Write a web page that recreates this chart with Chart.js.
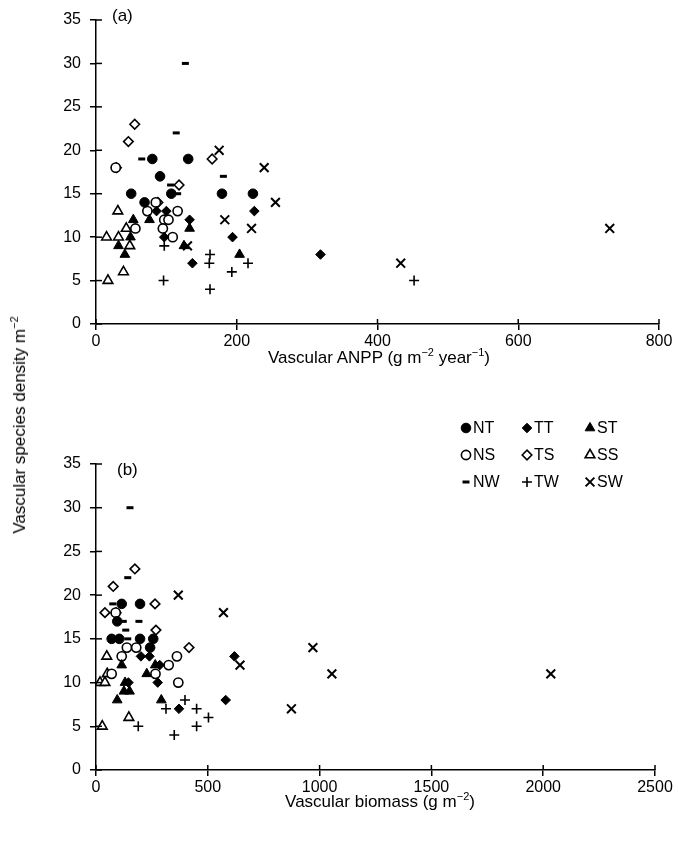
<!DOCTYPE html>
<html>
<head>
<meta charset="utf-8">
<title>Vascular species density</title>
<script src="https://cdn.jsdelivr.net/npm/chart.js@4.4.1/dist/chart.umd.min.js"></script>
<style>
  body { margin: 0; background: #fff; font-family: 'Liberation Sans', Arial, sans-serif; }
  #wrap { position: relative; width: 678px; height: 846px; overflow: hidden; }
  canvas { position: absolute; left: 0; }
  #chart-a { top: 0; }
  #chart-b { top: 400px; }
  .lbl { position: absolute; color: #000; font-size: 17px; line-height: 18px; white-space: nowrap; }
  .lbl sup { font-size: 11px; line-height: 0; }
  .ytitle { left: 20px; top: 425px; transform: translate(-50%, -50%) rotate(-90deg); }
  .xtitle { transform: translateX(-50%); }
</style>
</head>
<body>
<div id="wrap">
  <canvas id="chart-a" width="678" height="400"></canvas>
  <canvas id="chart-b" width="678" height="446"></canvas>
  <div class="lbl" style="left:112px; top:7px;">(a)</div>
  <div class="lbl" style="left:117px; top:461px;">(b)</div>
  <div class="lbl xtitle" style="left:379px; top:349px;">Vascular ANPP (g m<sup>−2</sup> year<sup>−1</sup>)</div>
  <div class="lbl xtitle" style="left:380px; top:793px;">Vascular biomass (g m<sup>−2</sup>)</div>
  <div class="lbl ytitle">Vascular species density m<sup>−2</sup></div>
</div>
<script>
'use strict';

//**********Global Variables*******************
// [x, species density] pairs

// (a) vascular ANPP
let ntAnpp = [[80, 19], [131, 19], [91, 17], [50, 15], [107, 15], [179, 15], [223, 15], [69, 14]];
let ttAnpp = [[86, 13], [100, 13], [133, 12], [225, 13], [194, 10], [97, 10], [137, 7], [319, 8]];
let stAnpp = [[53, 12], [76, 12], [133, 11], [49, 10], [32, 9], [41, 8], [125, 9], [204, 8]];
let nsAnpp = [[28, 18], [85, 14], [73, 13], [116, 13], [97, 12], [103, 12], [56, 11], [95, 11], [109, 10]];
let tsAnpp = [[55, 23], [46, 21], [165, 19], [29, 18], [118, 16], [88, 14]];
let ssAnpp = [[31, 13], [43, 11], [15, 10], [32, 10], [48, 9], [39, 6], [17, 5]];
let nwAnpp = [[127, 30], [114, 22], [65, 19], [181, 17], [106, 16], [116, 15]];
let twAnpp = [[97, 9], [96, 5], [162, 8], [161, 7], [162, 4], [193, 6], [216, 7], [452, 5]];
let swAnpp = [[175, 20], [239, 18], [255, 14], [183, 12], [221, 11], [130, 9], [433, 7], [730, 11]];

// (b) vascular biomass
let ntBio = [[115, 19], [197, 19], [95, 17], [70, 15], [104, 15], [197, 15], [256, 15], [242, 14]];
let ttBio = [[201, 13], [239, 13], [619, 13], [285, 12], [276, 10], [145, 10], [371, 7], [580, 8]];
let stBio = [[115, 12], [265, 12], [227, 11], [130, 10], [125, 9], [150, 9], [95, 8], [292, 8]];
let nsBio = [[88, 18], [138, 14], [180, 14], [115, 13], [362, 13], [325, 12], [266, 11], [70, 11], [368, 10]];
let tsBio = [[174, 23], [77, 21], [264, 19], [40, 18], [90, 18], [268, 16], [416, 14]];
let ssBio = [[48, 13], [50, 11], [18, 10], [40, 10], [147, 6], [28, 5]];
let nwBio = [[152, 30], [142, 22], [75, 19], [122, 17], [192, 17], [133, 16], [142, 15]];
let twBio = [[398, 8], [313, 7], [450, 7], [503, 6], [189, 5], [450, 5], [350, 4]];
let swBio = [[368, 20], [570, 18], [970, 14], [644, 12], [1055, 11], [2034, 11], [874, 7]];

let groupNames = ['NT', 'TT', 'ST', 'NS', 'TS', 'SS', 'NW', 'TW', 'SW'];
let yTicks = [0, 5, 10, 15, 20, 25, 30, 35];
let anppTicks = [0, 200, 400, 600, 800];
let bioTicks = [0, 500, 1000, 1500, 2000, 2500];

// ************ Marker styles *******************

let markers = {
  NT: { style: 'circle', fill: '#000', r: 4.8, bw: 1 },
  TT: { style: 'rectRot', fill: '#000', r: 4.8, bw: 1 },
  ST: { style: 'triangle', fill: '#000', r: 5.6, bw: 1 },
  NS: { style: 'circle', fill: '#fff', r: 4.6, bw: 1.6 },
  TS: { style: 'rectRot', fill: '#fff', r: 4.8, bw: 1.6 },
  SS: { style: 'triangle', fill: '#fff', r: 5.6, bw: 1.6 },
  NW: { style: 'line', fill: '#000', r: 3.5, bw: 3 },
  TW: { style: 'cross', fill: '#000', r: 5, bw: 1.6 },
  SW: { style: 'crossRot', fill: '#000', r: 6.2, bw: 2 }
};

// ************ Helper Functions ****************

function makeDataset(name, pairs) {
  let m = markers[name];
  return {
    label: name,
    data: pairs.map(p => ({ x: p[0], y: p[1] })),
    pointStyle: m.style,
    pointRadius: m.r,
    pointHoverRadius: m.r,
    pointBackgroundColor: m.fill,
    pointBorderColor: '#000',
    pointBorderWidth: m.bw,
    showLine: false
  };
}

// ticks that cross the axis line (inner half)
let innerTicks = {
  id: 'innerTicks',
  afterDraw(chart) {
    let ctx = chart.ctx;
    let area = chart.chartArea;
    let xs = chart.scales.x;
    let ys = chart.scales.y;
    ctx.save();
    ctx.strokeStyle = '#000';
    ctx.lineWidth = 1.5;
    xs.ticks.forEach(t => {
      let px = xs.getPixelForValue(t.value);
      ctx.beginPath();
      ctx.moveTo(px, area.bottom);
      ctx.lineTo(px, area.bottom - 5);
      ctx.stroke();
    });
    ys.ticks.forEach(t => {
      let py = ys.getPixelForValue(t.value);
      ctx.beginPath();
      ctx.moveTo(area.left, py);
      ctx.lineTo(area.left + 6, py);
      ctx.stroke();
    });
    ctx.restore();
  }
};

// 3 x 3 legend block in panel (b)
let legendCols = [466, 527, 590];
let legendRows = [28, 55, 82];

let legendGrid = {
  id: 'legendGrid',
  afterDraw(chart) {
    if (!chart.options.plugins.legendGrid || !chart.options.plugins.legendGrid.show) return;
    let ctx = chart.ctx;
    chart.data.datasets.forEach((ds, i) => {
      let x = legendCols[i % 3];
      let y = legendRows[Math.floor(i / 3)];
      ctx.save();
      ctx.fillStyle = ds.pointBackgroundColor;
      ctx.strokeStyle = ds.pointBorderColor;
      ctx.lineWidth = ds.pointBorderWidth;
      Chart.helpers.drawPoint(ctx, {
        pointStyle: ds.pointStyle,
        radius: ds.pointRadius,
        borderWidth: ds.pointBorderWidth,
        rotation: 0
      }, x, y);
      ctx.fillStyle = '#000';
      ctx.font = '16px "Liberation Sans", Arial, sans-serif';
      ctx.textBaseline = 'middle';
      ctx.textAlign = 'left';
      ctx.fillText(ds.label, x + 7, y + 1);
      ctx.restore();
    });
  }
};

function makeScales(xTicks, xHeight) {
  let tickFont = { family: '"Liberation Sans", Arial, sans-serif', size: 16 };
  return {
    x: {
      type: 'linear',
      min: xTicks[0],
      max: xTicks[xTicks.length - 1],
      afterBuildTicks: scale => { scale.ticks = xTicks.map(v => ({ value: v })); },
      afterFit: scale => { scale.height = xHeight; },
      ticks: { color: '#000', font: tickFont, padding: 2, maxRotation: 0, callback: v => String(v) },
      grid: { drawOnChartArea: false, drawTicks: true, tickLength: 6, color: '#000', lineWidth: 1.5 },
      border: { color: '#000', width: 1.5 }
    },
    y: {
      type: 'linear',
      min: 0,
      max: 35,
      afterBuildTicks: scale => { scale.ticks = yTicks.map(v => ({ value: v })); },
      afterFit: scale => { scale.width = 96; },
      ticks: { color: '#000', font: tickFont, padding: 9, callback: v => String(v) },
      grid: { drawOnChartArea: false, drawTicks: true, tickLength: 6, color: '#000', lineWidth: 1.5 },
      border: { color: '#000', width: 1.5 }
    }
  };
}

function renderChart(canvasId, groups, xTicks, pad, xHeight, showLegend) {
  let datasets = [];
  for (let i = 0; i < groupNames.length; i++) {
    datasets.push(makeDataset(groupNames[i], groups[i]));
  }
  let myObj = {
    type: 'scatter',
    data: { datasets: datasets },
    options: {
      responsive: false,
      animation: false,
      devicePixelRatio: 1,
      layout: { padding: pad },
      scales: makeScales(xTicks, xHeight),
      plugins: {
        legend: { display: false },
        tooltip: { enabled: false },
        legendGrid: { show: showLegend }
      }
    },
    plugins: [innerTicks, legendGrid]
  };
  return new Chart(document.getElementById(canvasId), myObj);
}

// ************* Charts ****************

renderChart('chart-a',
  [ntAnpp, ttAnpp, stAnpp, nsAnpp, tsAnpp, ssAnpp, nwAnpp, twAnpp, swAnpp],
  anppTicks, { left: 0, top: 20, right: 19, bottom: 0 }, 76, false);

renderChart('chart-b',
  [ntBio, ttBio, stBio, nsBio, tsBio, ssBio, nwBio, twBio, swBio],
  bioTicks, { left: 0, top: 64, right: 23, bottom: 0 }, 76, true);
</script>
</body>
</html>
